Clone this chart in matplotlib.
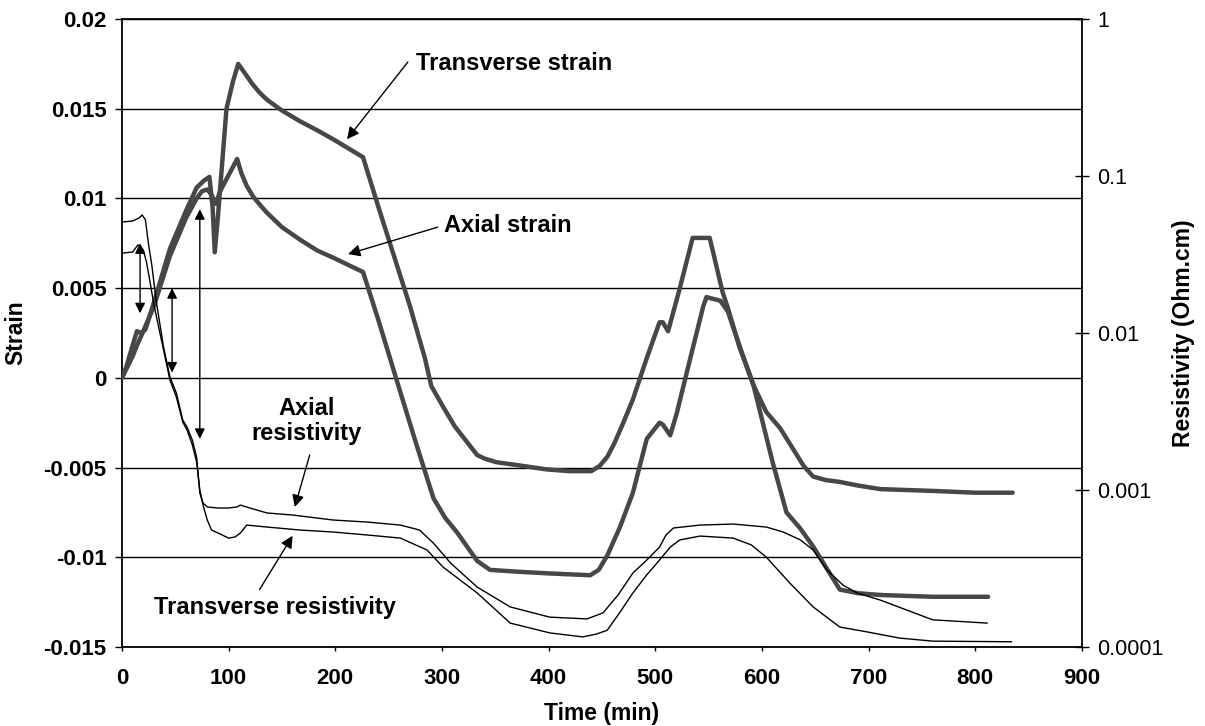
import matplotlib
matplotlib.use("Agg")
import matplotlib.pyplot as plt
from matplotlib.ticker import FixedLocator, FixedFormatter, NullLocator

plt.rcParams['font.family'] = ['Liberation Sans', 'DejaVu Sans']

# ---------------- data ----------------
trans_strain_t = [0, 4, 8, 14, 18, 22, 30, 45, 60, 70, 77, 82, 85, 87, 90, 98, 104, 109,
                  115, 122, 129, 136, 150, 167, 183, 198, 212, 226, 240, 255, 270, 284, 290,
                  301, 312, 333, 340, 351, 375, 398, 420, 440, 448, 455, 462, 470, 479, 492,
                  504, 507, 512, 523, 535, 551, 563, 568, 579, 592, 604, 617, 639, 648, 660,
                  673, 690, 711, 760, 800, 835]
trans_strain = [0, 0.0006, 0.0014, 0.0026, 0.0025, 0.0027, 0.0042, 0.0072, 0.0093, 0.0106,
                0.0110, 0.0112, 0.0095, 0.0070, 0.0090, 0.0150, 0.0165, 0.0175,
                0.0170, 0.0164, 0.0159, 0.0155, 0.0149, 0.0143, 0.0138, 0.0133, 0.0128,
                0.0123, 0.0096, 0.0068, 0.0040, 0.0011, -0.00045,
                -0.0016, -0.0027, -0.0043, -0.0045, -0.0047, -0.0049, -0.0051, -0.0052,
                -0.0052, -0.0049, -0.0044, -0.0036, -0.0025, -0.0012, 0.0011,
                0.0031, 0.0031, 0.0026, 0.0050, 0.0078, 0.0078, 0.0048, 0.0039, 0.0017,
                -0.0004, -0.0019, -0.0028, -0.0049, -0.0055, -0.0057,
                -0.0058, -0.0060, -0.0062, -0.0063, -0.0064, -0.0064]

axial_strain_t = [0, 5, 10, 14, 20, 30, 45, 60, 70, 75, 80, 84, 88, 92, 100, 108, 112, 117,
                  123, 130, 136, 150, 167, 183, 198, 212, 226, 240, 261, 276, 292, 303, 314,
                  333, 345, 370, 401, 439, 447, 455, 467, 479, 492, 504, 507, 514, 520, 532,
                  545, 548, 561, 568, 580, 592, 610, 623, 636, 648, 673, 690, 711, 760, 812]
axial_strain = [0, 0.0006, 0.0012, 0.0018, 0.0026, 0.0040, 0.0068, 0.0089, 0.0100, 0.0104,
                0.0105, 0.0102, 0.0097, 0.0104, 0.0113, 0.0122, 0.0114, 0.0107,
                0.0101, 0.0096, 0.0092, 0.0084, 0.0077, 0.0071, 0.0067, 0.0063, 0.0059,
                0.0033, -0.0008, -0.0037, -0.0067, -0.0078, -0.0086,
                -0.0102, -0.0107, -0.0108, -0.0109, -0.0110, -0.0107, -0.0099, -0.0083,
                -0.0064, -0.0034, -0.0025, -0.0026, -0.0032, -0.0020, 0.0009,
                0.0040, 0.0045, 0.0043, 0.0037, 0.0016, -0.0004, -0.0047, -0.0075,
                -0.0084, -0.0094, -0.0118, -0.0120, -0.0121, -0.0122, -0.0122]

axial_res_t = [0, 10, 16, 19, 22, 25, 28, 32, 39, 45, 51, 57, 61, 66, 70, 73, 76, 80, 90,
               100, 108, 111, 120, 136, 160, 198, 230, 261, 279, 292, 308, 333, 364, 401,
               436, 451, 465, 479, 492, 504, 510, 517, 542, 573, 604, 620, 636, 648, 661,
               676, 689, 711, 760, 811]
axial_res = [0.0509, 0.0517, 0.0540, 0.0565, 0.0525, 0.0364, 0.0271, 0.0162, 0.00815,
             0.00525, 0.00415, 0.00279, 0.00252, 0.00208, 0.00162, 0.000957, 0.000826,
             0.000780, 0.000768, 0.000768, 0.000780, 0.000802, 0.000768, 0.000714,
             0.000693, 0.000644, 0.000625, 0.000598, 0.000556, 0.000459, 0.000343,
             0.000241, 0.000180, 0.000155, 0.000151, 0.000165, 0.000214, 0.000296,
             0.000358, 0.000433, 0.000517, 0.000573, 0.000598, 0.000607, 0.000581,
             0.000540, 0.000481, 0.000415, 0.000309, 0.000248, 0.000221, 0.000199,
             0.000149, 0.000142]

trans_res_t = [0, 10, 15, 20, 23, 26, 30, 39, 45, 51, 57, 61, 66, 70, 73, 76, 80, 84, 92,
               100, 106, 111, 117, 136, 167, 198, 230, 261, 286, 301, 333, 364, 401, 432,
               445, 455, 467, 479, 492, 504, 514, 523, 542, 573, 590, 604, 626, 648, 673,
               698, 729, 760, 834]
trans_res = [0.0323, 0.0328, 0.0364, 0.0338, 0.0283, 0.0218, 0.0151, 0.00780, 0.00502,
             0.00391, 0.00271, 0.00241, 0.00194, 0.00151, 0.00100, 0.000802, 0.000644,
             0.000556, 0.000525, 0.000494, 0.000502, 0.000532, 0.000598, 0.000581,
             0.000556, 0.000540, 0.000517, 0.000494, 0.000415, 0.000323, 0.000221,
             0.000142, 0.000123, 0.000116, 0.000121, 0.000128, 0.000167, 0.000221,
             0.000288, 0.000358, 0.000433, 0.000481, 0.000509, 0.000494, 0.000447,
             0.000374, 0.000256, 0.000180, 0.000134, 0.000125, 0.000114, 0.000109,
             0.000108]

strain_ticks = [-0.015, -0.01, -0.005, 0, 0.005, 0.01, 0.015, 0.02]
strain_labels = ['-0.015', '-0.01', '-0.005', '0', '0.005', '0.01', '0.015', '0.02']
res_ticks = [0.0001, 0.001, 0.01, 0.1, 1]
res_labels = ['0.0001', '0.001', '0.01', '0.1', '1']
time_ticks = [0, 100, 200, 300, 400, 500, 600, 700, 800, 900]

# ---------------- figure ----------------
fig = plt.figure(figsize=(12.05, 7.26), dpi=100)
ax = fig.add_axes([0.1012, 0.1088, 0.7967, 0.865])

ax.set_xlim(0, 900)
ax.set_ylim(-0.015, 0.02)
for y in strain_ticks:
    ax.axhline(y, color='black', lw=1.0, zorder=1)

strain_col = '#474747'
ax.plot(trans_strain_t, trans_strain, color=strain_col, lw=3.2, zorder=3,
        solid_joinstyle='round', solid_capstyle='round')
ax.plot(axial_strain_t, axial_strain, color=strain_col, lw=3.2, zorder=3,
        solid_joinstyle='round', solid_capstyle='round')

ax.set_xticks(time_ticks)
ax.set_xticklabels([str(v) for v in time_ticks], fontsize=16, fontweight='bold')
ax.yaxis.set_major_locator(FixedLocator(strain_ticks))
ax.yaxis.set_major_formatter(FixedFormatter(strain_labels))
for lab in ax.get_yticklabels():
    lab.set_fontsize(16)
    lab.set_fontweight('bold')
ax.tick_params(axis='y', direction='out', length=5, width=1, pad=6)
ax.tick_params(axis='x', direction='out', length=3, width=1, pad=12)
for s in ['left', 'bottom', 'top']:
    ax.spines[s].set_linewidth(1.3)
ax.spines['right'].set_visible(False)

ax.set_xlabel('Time (min)', fontsize=16.5, fontweight='bold')
ax.xaxis.set_label_coords(0.5, -0.088)
ax.set_ylabel('Strain', fontsize=16.5, fontweight='bold')
ax.yaxis.set_label_coords(-0.099, 0.5)

ax2 = ax.twinx()
ax2.set_yscale('log')
ax2.set_ylim(0.0001, 1)
ax2.plot(axial_res_t, axial_res, color='black', lw=1.0, zorder=2)
ax2.plot(trans_res_t, trans_res, color='black', lw=1.0, zorder=2)
ax2.yaxis.set_major_locator(FixedLocator(res_ticks))
ax2.yaxis.set_major_formatter(FixedFormatter(res_labels))
ax2.yaxis.set_minor_locator(NullLocator())
ax2.tick_params(axis='y', direction='inout', length=10, width=1, labelsize=15.5, pad=6)
for s in ['left', 'bottom', 'top']:
    ax2.spines[s].set_visible(False)
ax2.spines['right'].set_linewidth(1.3)
ax2.set_ylabel('Resistivity (Ohm.cm)', fontsize=16.5, fontweight='bold')
ax2.yaxis.set_label_coords(1.094, 0.5)

# ---------------- annotations ----------------
arr = dict(arrowstyle='-|>', color='black', lw=1.0, mutation_scale=18, shrinkA=0, shrinkB=0)
dbl = dict(arrowstyle='<|-|>', color='black', lw=1.0, mutation_scale=15, shrinkA=0, shrinkB=0)
tkw = dict(fontsize=17, fontweight='bold', zorder=5)

ax.annotate('', xy=(211, 0.0133), xytext=(268, 0.0176), arrowprops=arr)
ax.text(276, 0.0175, 'Transverse strain', ha='left', va='center', **tkw)

ax.annotate('', xy=(212, 0.0069), xytext=(296, 0.0084), arrowprops=arr)
ax.text(302, 0.0085, 'Axial strain', ha='left', va='center', **tkw)

ax.annotate('', xy=(162, -0.0072), xytext=(176, -0.0043), arrowprops=arr)
ax.text(173, -0.0024, 'Axial\nresistivity', ha='center', va='center',
        linespacing=1.15, **tkw)

ax.annotate('', xy=(160, -0.0088), xytext=(129, -0.0118), arrowprops=arr)
ax.text(143, -0.0128, 'Transverse resistivity', ha='center', va='center', **tkw)

ax.annotate('', xy=(17, 0.0036), xytext=(17, 0.0075), arrowprops=dbl)
ax.annotate('', xy=(47, 0.0003), xytext=(47, 0.0050), arrowprops=dbl)
ax.annotate('', xy=(73, -0.0034), xytext=(73, 0.0094), arrowprops=dbl)

fig.savefig('out.png', dpi=100)
